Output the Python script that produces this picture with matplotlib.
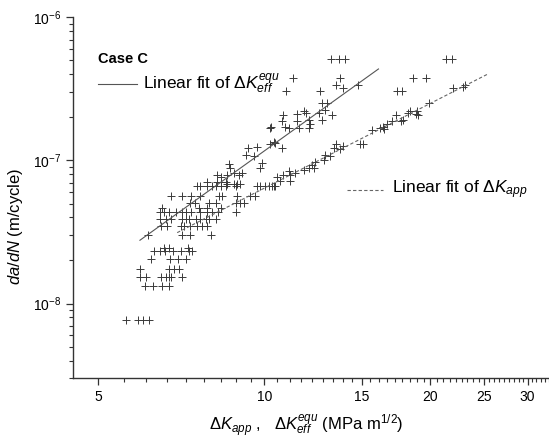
import numpy as np
import matplotlib
matplotlib.use("Agg")
import matplotlib.pyplot as plt
from matplotlib.ticker import FixedLocator, NullFormatter, LogLocator

plt.rcParams["font.family"] = ["Liberation Sans", "DejaVu Sans"]
plt.rcParams["mathtext.fontset"] = "custom"
plt.rcParams["mathtext.rm"] = "Liberation Sans"
plt.rcParams["mathtext.it"] = "Liberation Sans:italic"
plt.rcParams["mathtext.bf"] = "Liberation Sans:bold"

# ---- data ----
# points around the dK_eff^equ fit (upper band)
k_eff = [6.16, 6.50, 6.67, 7.05, 7.15, 7.33,
         6.48, 6.63, 6.77, 7.10, 7.20, 7.30, 7.53, 7.66,
         6.46, 6.57, 6.71, 6.93, 7.08, 7.22, 7.37, 7.66, 7.88,
         6.53, 7.61, 7.86,
         7.33, 7.50, 7.93, 8.16,
         6.77, 7.10, 7.35, 7.64, 8.27, 8.38,
         7.56, 7.66, 7.88, 8.05, 8.16, 8.33, 8.51, 8.87,
         7.88, 8.22, 8.33, 8.51,
         8.22, 8.33, 8.56, 8.80, 8.99, 9.11,
         8.56, 8.80, 8.93, 9.05,
         8.62, 8.68, 9.90, 9.83, 9.28, 9.56, 9.33, 9.70, 10.22, 10.39, 10.30,
         13.2, 13.66, 14.0, 11.27, 13.7, 10.96, 12.59, 13.5, 13.9, 14.8,
         12.7, 13.0, 11.46, 11.78, 11.91, 10.83, 12.54, 12.89, 13.25,
         10.76, 11.46, 12.03, 12.72,
         10.25, 10.91, 11.06, 11.54, 12.03, 12.11,
         10.45, 10.76]
dadn_eff = [3.03e-8, 3.46e-8, 3.46e-8, 3.46e-8, 3.46e-8, 3.46e-8,
            3.9e-8, 3.9e-8, 3.9e-8, 3.9e-8, 3.9e-8, 3.9e-8, 3.9e-8, 3.9e-8,
            4.34e-8, 4.34e-8, 4.34e-8, 4.34e-8, 4.34e-8, 4.34e-8, 4.34e-8, 4.34e-8, 4.34e-8,
            4.65e-8, 4.65e-8, 4.65e-8,
            5.03e-8, 5.03e-8, 5.03e-8, 5.03e-8,
            5.6e-8, 5.6e-8, 5.6e-8, 5.6e-8, 5.6e-8, 5.6e-8,
            6.6e-8, 6.6e-8, 6.6e-8, 6.6e-8, 6.6e-8, 6.6e-8, 6.6e-8, 6.6e-8,
            7.1e-8, 7.1e-8, 7.1e-8, 7.1e-8,
            7.95e-8, 7.7e-8, 7.95e-8, 8.2e-8, 7.95e-8, 8.2e-8,
            6.9e-8, 6.8e-8, 6.8e-8, 6.9e-8,
            9.5e-8, 8.85e-8, 9.6e-8, 8.85e-8, 1.10e-7, 1.07e-7, 1.22e-7, 1.24e-7, 1.31e-7, 1.34e-7, 1.70e-7,
            5.1e-7, 5.1e-7, 5.1e-7, 3.76e-7, 3.76e-7, 3.08e-7, 3.08e-7, 3.37e-7, 3.2e-7, 3.37e-7,
            2.51e-7, 2.51e-7, 2.12e-7, 2.22e-7, 2.14e-7, 2.08e-7, 2.14e-7, 2.26e-7, 2.08e-7,
            1.9e-7, 1.9e-7, 1.93e-7, 1.92e-7,
            1.68e-7, 1.71e-7, 1.68e-7, 1.68e-7, 1.68e-7, 1.79e-7,
            1.32e-7, 1.22e-7]

# points around the dK_app fit (lower band)
k_app = [5.61, 5.91, 6.02, 6.19,
         6.07, 6.28, 6.53, 6.71,
         5.94, 6.09, 6.49, 6.63, 6.71, 6.78, 7.08,
         5.96, 6.71, 6.86, 6.99,
         6.24, 6.74, 6.97, 7.22,
         6.31, 6.46, 6.60, 6.84, 7.05, 7.30, 7.40,
         6.57, 6.71, 7.27,
         7.10, 7.33, 7.99,
         7.56, 7.72, 7.88,
         7.83, 7.93, 8.16,
         8.05, 8.25, 8.87,
         8.33, 8.87, 9.05, 9.17,
         8.92, 9.43, 9.63,
         9.70, 9.83, 10.04, 10.18, 10.32, 10.47,
         17.4, 17.75, 18.6, 19.65, 21.3, 21.9,
         22.0, 22.9, 23.1, 19.9,
         18.4, 18.9, 18.8, 19.0, 18.2,
         17.3, 17.7, 17.8, 17.0,
         16.2, 16.4, 16.5, 15.65, 16.65,
         14.9, 15.1, 13.87, 13.5, 13.7, 13.4,
         12.89, 13.16, 12.80, 12.37, 12.2, 12.28, 12.03, 11.78, 11.38,
         11.14, 11.06, 10.83, 10.54, 10.69, 11.14, 10.39]
dadn_app = [7.7e-9, 7.7e-9, 7.7e-9, 7.7e-9,
            1.32e-8, 1.32e-8, 1.32e-8, 1.32e-8,
            1.54e-8, 1.54e-8, 1.54e-8, 1.54e-8, 1.54e-8, 1.54e-8, 1.54e-8,
            1.73e-8, 1.73e-8, 1.73e-8, 1.73e-8,
            2.05e-8, 2.05e-8, 2.05e-8, 2.05e-8,
            2.32e-8, 2.32e-8, 2.32e-8, 2.32e-8, 2.32e-8, 2.32e-8, 2.32e-8,
            2.45e-8, 2.45e-8, 2.45e-8,
            3.03e-8, 3.03e-8, 3.03e-8,
            3.46e-8, 3.46e-8, 3.46e-8,
            3.9e-8, 3.9e-8, 3.9e-8,
            4.34e-8, 4.34e-8, 4.34e-8,
            4.65e-8, 5.03e-8, 5.03e-8, 5.03e-8,
            5.6e-8, 5.6e-8, 5.6e-8,
            6.6e-8, 6.6e-8, 6.6e-8, 6.6e-8, 6.6e-8, 6.6e-8,
            3.08e-7, 3.08e-7, 3.76e-7, 3.76e-7, 5.1e-7, 5.1e-7,
            3.2e-7, 3.25e-7, 3.37e-7, 2.51e-7,
            2.2e-7, 2.22e-7, 2.12e-7, 2.08e-7, 2.14e-7,
            2.08e-7, 1.9e-7, 1.93e-7, 1.9e-7,
            1.68e-7, 1.7e-7, 1.66e-7, 1.64e-7, 1.79e-7,
            1.31e-7, 1.31e-7, 1.26e-7, 1.31e-7, 1.2e-7, 1.22e-7,
            1.1e-7, 1.07e-7, 1.01e-7, 9.8e-8, 9.3e-8, 8.85e-8, 8.85e-8, 8.6e-8, 8.2e-8,
            7.95e-8, 8.4e-8, 7.95e-8, 7.7e-8, 7.15e-8, 7.15e-8, 6.6e-8]

# fit lines (end points)
fit_eff_k = [5.95, 16.1]
fit_eff_dadn = [2.77e-8, 4.36e-7]
fit_app_k = [6.95, 25.45]
fit_app_dadn = [3.13e-8, 4.03e-7]

x_major = [5, 10, 15, 20, 25, 30]

# ---- figure ----
fig = plt.figure(figsize=(5.49, 4.41), dpi=100)
ax = fig.add_axes([0.133, 0.142, 0.867, 0.8186])

mk = dict(marker="+", linestyle="none", color="#3a3a3a", markersize=5.5, markeredgewidth=0.7)
ax.plot(k_eff, dadn_eff, **mk)
ax.plot(k_app, dadn_app, **mk)
ax.plot(fit_eff_k, fit_eff_dadn, color="#555555", lw=0.8)
ax.plot(fit_app_k, fit_app_dadn, color="#666666", lw=0.8, dashes=(3, 2))

ax.set_xscale("log")
ax.set_yscale("log")
ax.set_xlim(4.5, 32.8)
ax.set_ylim(3e-9, 1e-6)

ax.set_xticks(x_major, labels=[str(v) for v in x_major])
step = 5 / 9
minors = [m + i * step for m in [0] + x_major for i in range(1, 9)]
minors = [v for v in minors if 4.5 < v < 32.8]
ax.xaxis.set_minor_locator(FixedLocator(minors))
ax.xaxis.set_minor_formatter(NullFormatter())
ax.yaxis.set_major_locator(LogLocator(base=10))
ax.yaxis.set_minor_locator(LogLocator(base=10, subs=np.arange(2, 10)))
ax.yaxis.set_minor_formatter(NullFormatter())

for s in ["top", "right"]:
    ax.spines[s].set_visible(False)
for s in ["left", "bottom"]:
    ax.spines[s].set_color("#333333")
    ax.spines[s].set_linewidth(1.0)
ax.tick_params(which="major", direction="out", length=5, width=0.9, color="#333333", labelsize=10)
ax.tick_params(which="minor", direction="out", length=3, width=0.8, color="#333333")

ax.set_xlabel(r"$\Delta K_{app}$ ,   $\Delta K_{eff}^{equ}$ (MPa m$^{1/2}$)", fontsize=12)
ax.xaxis.set_label_coords(0.49, -0.095)
ax.set_ylabel(r"$da/dN$ (m/cycle)", fontsize=12)
ax.yaxis.set_label_coords(-0.1, 0.42)

# legend, drawn by hand at its place
ax.text(0.0525, 0.884, "Case C", transform=ax.transAxes, fontsize=10.5,
        fontweight="bold", va="center", ha="left")
ax.plot([0.0525, 0.134], [0.815, 0.815], transform=ax.transAxes, color="#555555", lw=0.8)
ax.text(0.147, 0.815, r"Linear fit of $\Delta K_{eff}^{equ}$", transform=ax.transAxes,
        fontsize=12.5, va="center", ha="left")
ax.plot([0.576, 0.651], [0.522, 0.522], transform=ax.transAxes, color="#666666", lw=0.8,
        dashes=(3, 2))
ax.text(0.67, 0.522, r"Linear fit of $\Delta K_{app}$", transform=ax.transAxes,
        fontsize=12.5, va="center", ha="left")

fig.savefig("out.png", dpi=100)
